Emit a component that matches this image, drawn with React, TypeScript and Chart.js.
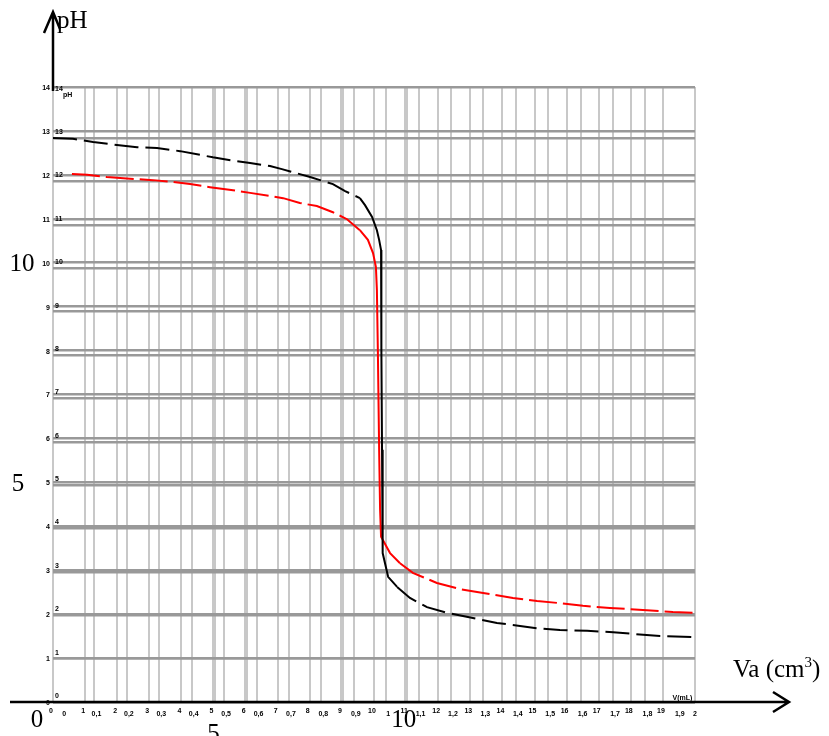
import React, { useEffect, useRef } from "react";
import { Chart, registerables } from "chart.js";

Chart.register(...registerables);

// Titration curves (Va in cm3, pH)
const vaBlack = [0, 0.62, 1.25, 1.99, 2.62, 3.24, 3.96, 4.98, 5.73, 6.14, 6.76, 7.13, 7.48, 8.01, 8.32, 8.72, 9.1, 9.56, 9.72, 9.94, 10.09, 10.16, 10.22, 10.23, 10.25, 10.26, 10.28, 10.44, 10.72, 11.12, 11.65, 12.27, 13.08, 13.83, 14.55, 15.08, 15.79, 16.64, 17.45, 18.07, 18.91, 19.94];
const phBlack = [12.84, 12.82, 12.75, 12.68, 12.63, 12.61, 12.54, 12.4, 12.31, 12.27, 12.2, 12.13, 12.06, 11.95, 11.88, 11.79, 11.63, 11.47, 11.31, 11.04, 10.74, 10.52, 10.29, 8.01, 5.74, 3.92, 3.39, 2.85, 2.62, 2.37, 2.16, 2.03, 1.91, 1.8, 1.73, 1.68, 1.64, 1.62, 1.59, 1.55, 1.5, 1.48];

const vaRed = [0.59, 1.06, 1.68, 2.4, 3.12, 3.74, 4.27, 4.89, 5.61, 6.14, 6.76, 7.17, 7.69, 8.22, 8.72, 9.16, 9.56, 9.81, 9.97, 10.06, 10.09, 10.12, 10.16, 10.19, 10.22, 10.5, 10.81, 11.21, 11.96, 12.68, 13.4, 14.33, 15.08, 15.79, 16.51, 17.35, 18.5, 19.31, 19.94];
const phRed = [12.02, 12.0, 11.95, 11.91, 11.88, 11.84, 11.79, 11.72, 11.65, 11.59, 11.52, 11.47, 11.36, 11.29, 11.15, 10.99, 10.74, 10.52, 10.22, 9.9, 9.38, 8.01, 5.74, 4.37, 3.76, 3.39, 3.16, 2.94, 2.71, 2.57, 2.48, 2.37, 2.3, 2.25, 2.19, 2.14, 2.09, 2.05, 2.03];

const pHTicks = [0, 1, 2, 3, 4, 5, 6, 7, 8, 9, 10, 11, 12, 13, 14];
const vaTicks = [0, 1, 2, 3, 4, 5, 6, 7, 8, 9, 10, 11, 12, 13, 14, 15, 16, 17, 18, 19, 20];
const thickVa = [5, 6, 9, 11];

const intOnly = (scale: any) => {
  scale.ticks = scale.ticks.filter((t: any) => Number.isInteger(t.value));
};

const dashFlat = (pattern: number[]) => (ctx: any) => {
  const dx = Math.abs(ctx.p1.x - ctx.p0.x);
  const dy = Math.abs(ctx.p1.y - ctx.p0.y);
  return dy < dx ? pattern : undefined;
};

const decorPlugin = {
  id: "decor",
  afterDraw(chart: any) {
    const ctx = chart.ctx;
    const xs = chart.scales.x;
    const ys = chart.scales.y;
    const x2 = chart.scales.x2;
    const y2 = chart.scales.y2;
    const x0 = xs.getPixelForValue(0);
    const yb = ys.getPixelForValue(0);
    const yt = ys.getPixelForValue(14);
    ctx.save();
    // tiny tick labels
    ctx.fillStyle = "#000";
    ctx.font = 'bold 7px "Liberation Sans"';
    ctx.textBaseline = "middle";
    pHTicks.forEach((v) => {
      ctx.textAlign = "right";
      ctx.fillText(String(v), x0 - 3, ys.getPixelForValue(v) + 1);
      ctx.textAlign = "left";
      ctx.fillText(String(v), x0 + 2, y2.getPixelForValue(v) - 6);
    });
    ctx.textAlign = "center";
    vaTicks.forEach((v) => {
      if (v < 20) ctx.fillText(String(v), xs.getPixelForValue(v) - 2, yb + 9);
      const lbl = String(v / 10).replace(".", ",");
      const px = v < 20 ? x2.getPixelForValue(Math.min(v, 19)) + 2 : xs.getPixelForValue(20);
      ctx.fillText(lbl, px, yb + 12);
    });
    ctx.textAlign = "left";
    ctx.fillText("pH", x0 + 10, yt + 8);
    ctx.fillText("V(mL)", xs.getPixelForValue(19.3), yb - 4);

    // main axes with arrows
    ctx.strokeStyle = "#000";
    ctx.lineWidth = 2.5;
    ctx.beginPath();
    ctx.moveTo(10, yb);
    ctx.lineTo(789, yb);
    ctx.moveTo(773, yb - 10);
    ctx.lineTo(789, yb);
    ctx.lineTo(773, yb + 10);
    ctx.moveTo(x0, yt + 4);
    ctx.lineTo(x0, 12);
    ctx.moveTo(x0 - 9, 33);
    ctx.lineTo(x0, 12);
    ctx.lineTo(x0 + 7, 29);
    ctx.stroke();

    // big serif labels
    ctx.font = '25px "Liberation Serif"';
    ctx.textBaseline = "alphabetic";
    ctx.textAlign = "left";
    ctx.fillText("pH", x0 + 4, 28);
    const vx = 733;
    ctx.fillText("Va (cm", vx, 677);
    const w = ctx.measureText("Va (cm").width;
    ctx.font = '15px "Liberation Serif"';
    ctx.fillText("3", vx + w, 667);
    const w3 = ctx.measureText("3").width;
    ctx.font = '25px "Liberation Serif"';
    ctx.fillText(")", vx + w + w3, 677);
    ctx.textAlign = "center";
    ctx.fillText("0", xs.getPixelForValue(-0.5), 727);
    ctx.fillText("5", xs.getPixelForValue(5), 741);
    ctx.fillText("10", xs.getPixelForValue(10.93), 727);
    ctx.fillText("10", 22, ys.getPixelForValue(10) + 8);
    ctx.fillText("5", 18, ys.getPixelForValue(5) + 9);
    ctx.restore();
  },
};

export default function App() {
  const ref = useRef<HTMLCanvasElement | null>(null);
  useEffect(() => {
    if (!ref.current) return;
    const chart = new Chart(ref.current, {
      type: "line",
      data: {
        datasets: [
          {
            label: "black",
            data: vaBlack.map((x, i) => ({ x, y: phBlack[i] })),
            borderColor: "#000000",
            borderWidth: 2,
            pointRadius: 0,
            tension: 0,
            fill: false,
            segment: { borderDash: dashFlat([24, 7]) },
          },
          {
            label: "red",
            data: vaRed.map((x, i) => ({ x, y: phRed[i] })),
            borderColor: "#ff0000",
            borderWidth: 2,
            pointRadius: 0,
            tension: 0,
            fill: false,
            segment: { borderDash: dashFlat([28, 6]) },
          },
        ],
      },
      options: {
        responsive: false,
        animation: false,
        layout: { padding: { left: 53, top: 87, right: 134, bottom: 34 } },
        plugins: { legend: { display: false }, tooltip: { enabled: false } },
        scales: {
          x: {
            type: "linear",
            position: "bottom",
            min: 0,
            max: 20,
            ticks: { display: false, stepSize: 1 },
            border: { display: false },
            grid: {
              color: "#c8c8c8",
              drawTicks: false,
              lineWidth: (c: any) => (thickVa.includes(c.tick?.value) ? 4 : 2),
            },
          },
          x2: {
            type: "linear",
            position: "bottom",
            min: -0.28,
            max: 19.53,
            afterBuildTicks: intOnly,
            ticks: { display: false, stepSize: 1 },
            border: { display: false },
            grid: { color: "#c8c8c8", drawTicks: false, lineWidth: 2 },
          },
          y: {
            type: "linear",
            position: "left",
            min: 0,
            max: 14,
            ticks: { display: false, stepSize: 1 },
            border: { display: false },
            grid: { color: "#999999", drawTicks: false, lineWidth: 2.5 },
          },
          y2: {
            type: "linear",
            position: "left",
            min: 0,
            max: 14.18,
            afterBuildTicks: intOnly,
            ticks: { display: false, stepSize: 1 },
            border: { display: false },
            grid: { color: "#999999", drawTicks: false, lineWidth: 2.5 },
          },
        },
      },
      plugins: [decorPlugin],
    } as any);
    return () => chart.destroy();
  }, []);
  return (
    <div style={{ position: "absolute", left: 0, top: 0 }}>
      <canvas ref={ref} width={829} height={736} style={{ display: "block" }} />
    </div>
  );
}
